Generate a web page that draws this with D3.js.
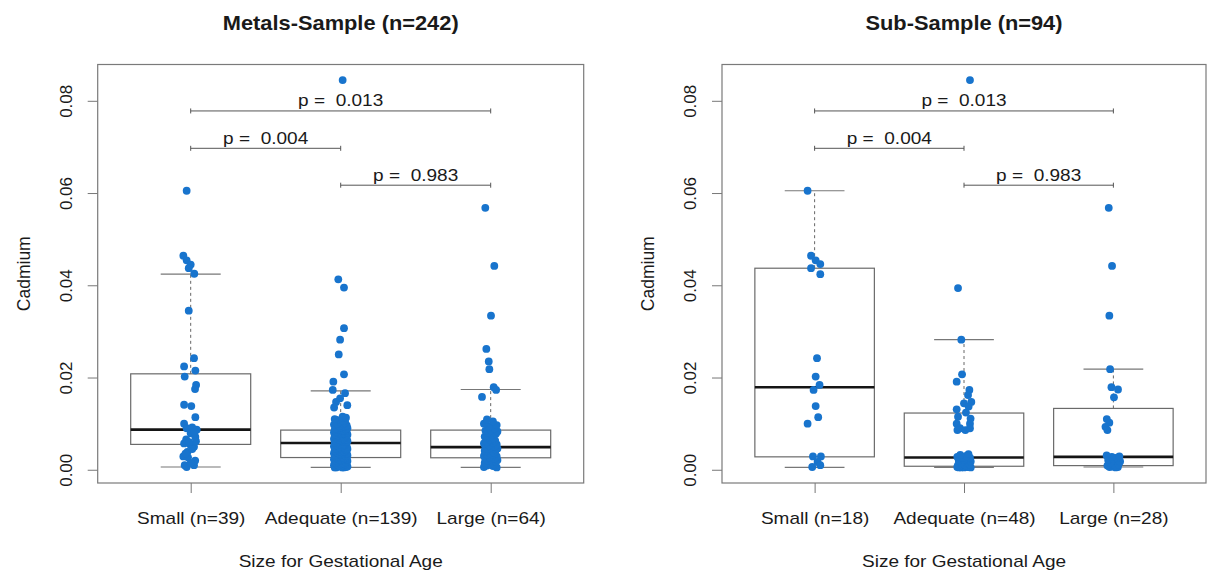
<!DOCTYPE html>
<html>
<head>
<meta charset="utf-8">
<script src="https://cdn.jsdelivr.net/npm/d3@7"></script>
<style>
  body { margin: 0; background: #fff; }
  text { font-family: "Liberation Sans", Arial, sans-serif; fill: #1a1a1a; white-space: pre; }
</style>
</head>
<body>
<svg id="chart" width="1207" height="578"></svg>
<script>
// y axis ticks, shared by both panels
var yTicks = [0, 0.02, 0.04, 0.06, 0.08];

var titleMetals = "Metals-Sample (n=242)";
var titleSub = "Sub-Sample (n=94)";
var groupsMetals = ["Small (n=39)", "Adequate (n=139)", "Large (n=64)"];
var groupsSub = ["Small (n=18)", "Adequate (n=48)", "Large (n=28)"];

// box stats: [lower whisker, Q1, median, Q3, upper whisker]
var boxMetals = [
  [0.0006, 0.0055, 0.0087, 0.0208, 0.0424],
  [0.0005, 0.00265, 0.0058, 0.0086, 0.0171],
  [0.0005, 0.0026, 0.0049, 0.0086, 0.0174]
];
var boxSub = [
  [0.0005, 0.0028, 0.0179, 0.0437, 0.0605],
  [0.0005, 0.00076, 0.00265, 0.0123, 0.0282],
  [0.0006, 0.0009, 0.0028, 0.0133, 0.0218]
];

// pairwise tests: [from group, to group, bracket height, p]
var pTests = [[1, 3, 0.0778, "0.013"], [1, 2, 0.0697, "0.004"], [2, 3, 0.0617, "0.983"]];

// cadmium values per group; jitter given for the points that stand apart,
// the rest of a dense cluster takes offsets from the spread list
var spread = [-0.04, 0.01, 0.035, -0.02, 0.045, -0.035, 0.0, 0.025, -0.01, 0.04, -0.045, 0.015, -0.025, 0.03, -0.005, 0.02, -0.03];

var metalsSmallVals = [0.0605, 0.0464, 0.0454, 0.0445, 0.0437, 0.0425, 0.0345, 0.0242, 0.0224, 0.0215, 0.0202, 0.0184, 0.0175, 0.0141, 0.0138, 0.0114, 0.0100, 0.0090, 0.0087, 0.0079, 0.0071, 0.0057, 0.0055, 0.0050, 0.0039, 0.0029, 0.0027, 0.0010, 0.0010, 0.0006, 0.0092, 0.0066, 0.0062, 0.0045, 0.0035, 0.0020, 0.0015, 0.0082, 0.0060];
var metalsSmallJit = [-0.027, -0.049, -0.027, 0, -0.013, 0.024, -0.013, 0.022, -0.044, 0.031, -0.04, 0.036, 0.029, -0.044, 0.004, 0.031, -0.044, -0.027, 0.04, 0, 0.031, -0.044, -0.004, 0.022, -0.022, -0.049, -0.018, -0.04, 0.022, -0.027, 0.01, -0.03, 0.035, 0.01, -0.035, 0.03, 0, 0.025, -0.01];

var metalsAdequateVals = [0.0845, 0.0413, 0.0395, 0.0307, 0.0282, 0.0250, 0.0207, 0.0191, 0.0173, 0.0166, 0.0155, 0.0147, 0.0140, 0.0135, 0.0115,
  0.0005, 0.0005, 0.0005, 0.0005, 0.0006, 0.0007, 0.0007, 0.0008, 0.0008, 0.0009, 0.0010, 0.0010, 0.0010, 0.0011, 0.0012, 0.0012, 0.0013, 0.0014, 0.0015, 0.0015, 0.0016, 0.0017, 0.0018, 0.0019, 0.0020, 0.0020, 0.0021, 0.0022, 0.0022, 0.0023, 0.0024, 0.0025, 0.0025, 0.0026, 0.0026,
  0.0027, 0.0028, 0.0029, 0.0030, 0.0030, 0.0031, 0.0032, 0.0033, 0.0034, 0.0035, 0.0035, 0.0036, 0.0037, 0.0038, 0.0039, 0.0040, 0.0040, 0.0041, 0.0042, 0.0043, 0.0044, 0.0045, 0.0045, 0.0046, 0.0047, 0.0048, 0.0049, 0.0050, 0.0051, 0.0052, 0.0053, 0.0054, 0.0055, 0.0056, 0.0057,
  0.0059, 0.0060, 0.0060, 0.0061, 0.0062, 0.0063, 0.0064, 0.0065, 0.0065, 0.0066, 0.0067, 0.0068, 0.0069, 0.0070, 0.0070, 0.0071, 0.0072, 0.0073, 0.0074, 0.0075, 0.0075, 0.0076, 0.0077, 0.0078, 0.0079, 0.0080, 0.0080, 0.0081, 0.0082, 0.0083, 0.0084, 0.0085, 0.0085, 0.0086, 0.0086,
  0.0087, 0.0088, 0.0089, 0.0090, 0.0090, 0.0092, 0.0093, 0.0095, 0.0096, 0.0098, 0.0100, 0.0100, 0.0102, 0.0104, 0.0106, 0.0108, 0.0110, 0.0112, 0.0113];
var metalsAdequateJit = [0.013, -0.016, 0.022, 0.022, -0.004, -0.013, 0.022, -0.049, -0.053, 0.029, -0.004, -0.031, 0.044, -0.044, 0.013];

var metalsLargeVals = [0.0568, 0.0442, 0.0334, 0.0262, 0.0235, 0.0218, 0.0179, 0.0173, 0.0158,
  0.0005, 0.0006, 0.0008, 0.0009, 0.0010, 0.0011, 0.0012, 0.0014, 0.0015, 0.0017, 0.0018, 0.0020, 0.0021, 0.0023, 0.0024, 0.0025,
  0.0027, 0.0029, 0.0030, 0.0032, 0.0033, 0.0035, 0.0036, 0.0038, 0.0040, 0.0041, 0.0042, 0.0044, 0.0045, 0.0046, 0.0048, 0.0049,
  0.0051, 0.0053, 0.0055, 0.0057, 0.0059, 0.0061, 0.0063, 0.0065, 0.0068, 0.0070, 0.0072, 0.0075, 0.0078, 0.0080, 0.0083, 0.0085,
  0.0087, 0.0090, 0.0094, 0.0097, 0.0100, 0.0105, 0.0109];
var metalsLargeJit = [-0.036, 0.024, 0.002, -0.029, -0.013, -0.009, 0.02, 0.036, -0.058];

var subSmallVals = [0.0605, 0.0464, 0.0454, 0.0446, 0.0437, 0.0424, 0.0242, 0.0202, 0.0184, 0.0173, 0.0138, 0.0114, 0.0100, 0.0029, 0.0029, 0.0017, 0.0006, 0.0010];
var subSmallJit = [-0.047, -0.024, 0.007, 0.038, -0.024, 0.038, 0.016, 0.007, 0.033, -0.007, 0.007, 0.024, -0.047, -0.011, 0.042, 0.02, -0.016, 0.038];

var subAdequateVals = [0.0845, 0.0394, 0.0282, 0.0207, 0.0191, 0.0173, 0.0162, 0.0147, 0.0144, 0.0137, 0.0131, 0.0124, 0.0115, 0.0111, 0.0100, 0.0100, 0.0090, 0.0086, 0.0086, 0.0090,
  0.0005, 0.0005, 0.0005, 0.0005, 0.0006, 0.0006, 0.0006, 0.0006, 0.0007, 0.0007, 0.0007, 0.0007, 0.0008, 0.0008, 0.0010, 0.0010, 0.0012, 0.0015, 0.0018, 0.0020, 0.0022, 0.0024, 0.0026, 0.0026, 0.0028, 0.0030, 0.0032, 0.0034];
var subAdequateJit = [0.04, -0.04, -0.018, -0.013, -0.049, 0.036, 0.027, 0.049, 0, 0.031, -0.049, 0.013, -0.04, 0.044, -0.049, 0.04, -0.027, 0.009, -0.044, 0.04];

var subLargeVals = [0.0568, 0.0442, 0.0334, 0.0218, 0.0179, 0.0174, 0.0157, 0.0110, 0.0102, 0.0093, 0.0086,
  0.0005, 0.0006, 0.0006, 0.0007, 0.0007, 0.0008, 0.0009, 0.0010, 0.0012, 0.0015, 0.0018, 0.0021, 0.0024, 0.0026, 0.0028, 0.0029, 0.0031];
var subLargeJit = [-0.031, -0.009, -0.027, -0.022, -0.013, 0.031, 0.004, -0.044, -0.027, -0.053, -0.04];

var ptColor = "#1874cd";
var stretch = 1.12; // the picture's text is a little wider than the font

var svg = d3.select("#chart");

var panels = [
  { title: titleMetals, left: 97.7, right: 583.7, groups: groupsMetals, box: boxMetals,
    vals: [metalsSmallVals, metalsAdequateVals, metalsLargeVals], jit: [metalsSmallJit, metalsAdequateJit, metalsLargeJit] },
  { title: titleSub, left: 722, right: 1206, groups: groupsSub, box: boxSub,
    vals: [subSmallVals, subAdequateVals, subLargeVals], jit: [subSmallJit, subAdequateJit, subLargeJit] }
];

var plotTop = 64.5, plotBottom = 483;
// R pads the data range by 4% on each side
var y = d3.scaleLinear().domain([-0.00287, 0.08787]).range([plotBottom, plotTop]);

panels.forEach(function (p) {
  var x = d3.scaleLinear().domain([0.38, 3.62]).range([p.left, p.right]);
  var g = svg.append("g");
  var unit = x(2) - x(1);

  // title
  g.append("text")
    .attr("transform", "translate(" + (p.left + p.right) / 2 + ",30) scale(" + stretch + ",1)")
    .attr("text-anchor", "middle")
    .style("font-size", "19.5px")
    .style("font-weight", "bold")
    .text(p.title);

  // y axis
  var yAxis = g.append("g")
    .attr("transform", "translate(" + p.left + ",0)")
    .call(d3.axisLeft(y).tickValues(yTicks).tickFormat(d3.format(".2f")).tickSize(10));
  yAxis.select(".domain").remove();
  yAxis.selectAll("line").attr("stroke", "#777");
  yAxis.selectAll("text")
    .attr("transform", "rotate(-90)")
    .attr("x", 0).attr("y", -25.7).attr("dy", 0)
    .attr("text-anchor", "middle")
    .style("font-size", "17px")
    .style("font-family", "Liberation Sans, Arial, sans-serif")
    .attr("fill", "#1a1a1a");

  // x axis
  var xAxis = g.append("g")
    .attr("transform", "translate(0," + plotBottom + ")")
    .call(d3.axisBottom(x).tickValues([1, 2, 3]).tickFormat(function (d) { return p.groups[d - 1]; }).tickSize(10));
  xAxis.select(".domain").remove();
  xAxis.selectAll("line").attr("stroke", "#777");
  xAxis.selectAll("text")
    .attr("y", 41.3).attr("dy", 0)
    .attr("transform", "scale(" + stretch + ",1)")
    .style("font-size", "17px")
    .style("font-family", "Liberation Sans, Arial, sans-serif")
    .attr("fill", "#1a1a1a");

  // axis titles
  g.append("text")
    .attr("transform", "translate(" + (p.left + p.right) / 2 + ",567.3) scale(" + stretch + ",1)")
    .attr("text-anchor", "middle")
    .style("font-size", "17px")
    .text("Size for Gestational Age");
  g.append("text")
    .attr("transform", "translate(" + (p.left - 68) + "," + (plotTop + plotBottom) / 2 + ") rotate(-90)")
    .attr("text-anchor", "middle")
    .style("font-size", "17.5px")
    .text("Cadmium");

  // boxes and whiskers
  p.box.forEach(function (b, i) {
    var cx = x(i + 1), hw = 0.4 * unit, cw = 0.2 * unit;
    g.append("line").attr("x1", cx).attr("x2", cx).attr("y1", y(b[3])).attr("y2", y(b[4]))
      .attr("stroke", "#666").attr("stroke-dasharray", "3,3");
    g.append("line").attr("x1", cx).attr("x2", cx).attr("y1", y(b[1])).attr("y2", y(b[0]))
      .attr("stroke", "#666").attr("stroke-dasharray", "3,3");
    [b[0], b[4]].forEach(function (v) {
      g.append("line").attr("x1", cx - cw).attr("x2", cx + cw).attr("y1", y(v)).attr("y2", y(v))
        .attr("stroke", "#777").attr("stroke-width", 1.2);
    });
    g.append("rect").attr("x", cx - hw).attr("width", 2 * hw)
      .attr("y", y(b[3])).attr("height", y(b[1]) - y(b[3]))
      .attr("fill", "none").attr("stroke", "#6a6a6a").attr("stroke-width", 1.2);
    g.append("line").attr("x1", cx - hw).attr("x2", cx + hw).attr("y1", y(b[2])).attr("y2", y(b[2]))
      .attr("stroke", "#151515").attr("stroke-width", 2.6);
  });

  // points
  p.vals.forEach(function (vals, i) {
    var jit = p.jit[i];
    var pts = vals.map(function (v, k) {
      var j = k < jit.length ? jit[k] : spread[k % spread.length];
      return { x: i + 1 + j, v: v };
    });
    g.selectAll(null).data(pts).enter().append("circle")
      .attr("cx", function (d) { return x(d.x); })
      .attr("cy", function (d) { return y(d.v); })
      .attr("r", 3.9)
      .attr("fill", ptColor);
  });

  // significance brackets
  pTests.forEach(function (t) {
    var x1 = x(t[0]), x2 = x(t[1]), yy = y(t[2]);
    g.append("line").attr("x1", x1).attr("x2", x2).attr("y1", yy).attr("y2", yy).attr("stroke", "#555");
    [x1, x2].forEach(function (xe) {
      g.append("line").attr("x1", xe).attr("x2", xe).attr("y1", yy - 2.5).attr("y2", yy + 2.5).attr("stroke", "#555");
    });
    g.append("text")
      .attr("transform", "translate(" + (x1 + x2) / 2 + "," + (yy - 4.5) + ") scale(" + stretch + ",1)")
      .attr("text-anchor", "middle")
      .style("font-size", "17px")
      .text("p =  " + t[3]);
  });

  // frame
  g.append("rect").attr("x", p.left).attr("y", plotTop)
    .attr("width", p.right - p.left).attr("height", plotBottom - plotTop)
    .attr("fill", "none").attr("stroke", "#7a7a7a").attr("stroke-width", 1.2);
});
</script>
</body>
</html>
